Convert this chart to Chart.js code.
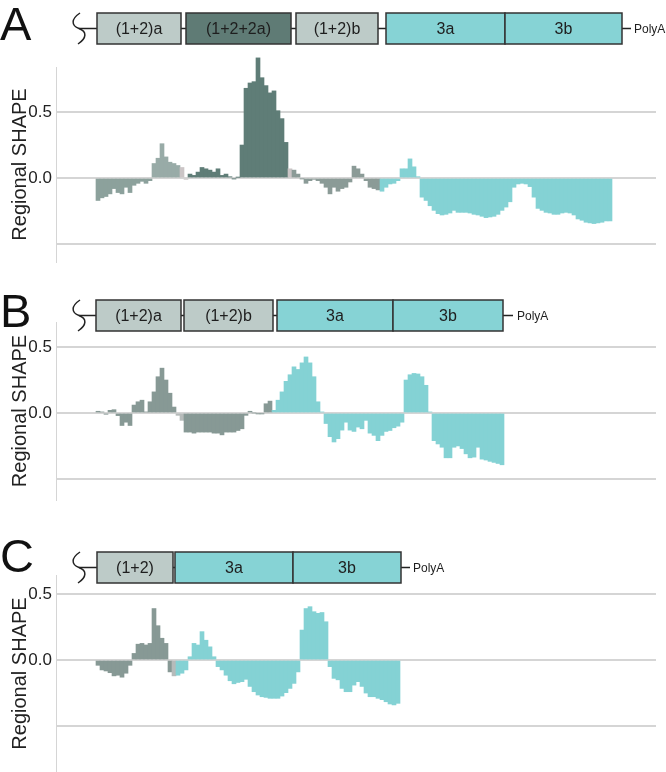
<!DOCTYPE html>
<html>
<head>
<title>Regional SHAPE</title>
<script src="https://cdn.jsdelivr.net/npm/chart.js"></script>
<style>
    body {
        margin: 0;
        background: #fff;
        font-family: "Liberation Sans", Arial, sans-serif;
    }

    #page {
        position: relative;
        width: 666px;
        height: 772px;
        overflow: hidden;
    }

    canvas, svg {
        position: absolute;
        left: 0;
    }
</style>
</head>
<body>
<div id="page">
    <canvas id="chartA" width="666" height="228" style="top:50px"></canvas>
    <canvas id="chartB" width="666" height="211" style="top:305px"></canvas>
    <canvas id="chartC" width="666" height="229" style="top:558px"></canvas>
    <svg id="maps" width="666" height="772" style="top:0"></svg>
</div>

<script>
// ---- values (one bar per 4px window) ----
var yTicks = [-0.5, 0, 0.5];
var yTickLabels = ['', '0.0', '0.5'];
var slotCount = 150;   // windows across the whole plot width
var leadSlots = 10;    // empty windows before the first bar

var shapeA = [
    -0.17, -0.15, -0.14, -0.12, -0.08, -0.11, -0.12, -0.07, -0.11, -0.055,
    -0.04, -0.025, -0.04, -0.02, 0.11, 0.15, 0.26, 0.16, 0.12, 0.11,
    0.095, 0.08, -0.01, 0.03, 0.02, 0.045, 0.08, 0.07, 0.06, 0.045,
    0.07, 0.02, 0.03, 0.01, -0.005, 0.005, 0.25, 0.68, 0.72, 0.73,
    0.91, 0.76, 0.70, 0.645, 0.66, 0.51, 0.45, 0.27, 0.07, 0.06,
    0.03, -0.005, -0.04, -0.02, -0.01, -0.02, -0.04, -0.07, -0.12, -0.07,
    -0.10, -0.08, -0.07, -0.03, 0.09, 0.07, 0.03, -0.02, -0.07, -0.08,
    -0.09, -0.10, -0.07, -0.045, -0.04, -0.02, 0.07, 0.07, 0.145, 0.085,
    0.01, -0.145, -0.17, -0.21, -0.245, -0.27, -0.28, -0.275, -0.265, -0.245,
    -0.26, -0.26, -0.26, -0.265, -0.275, -0.28, -0.29, -0.30, -0.295, -0.29,
    -0.275, -0.245, -0.22, -0.18, -0.07, -0.045, -0.04, -0.045, -0.065, -0.145,
    -0.23, -0.245, -0.26, -0.265, -0.275, -0.275, -0.265, -0.26, -0.265, -0.28,
    -0.31, -0.32, -0.335, -0.34, -0.345, -0.34, -0.335, -0.325, -0.325
];

var shapeB = [
    0.013, 0.008, -0.01, 0.02, 0.025, -0.02, -0.095, -0.07, -0.095, 0.06,
    0.085, 0.097, 0.008, 0.085, 0.16, 0.275, 0.34, 0.25, 0.15, 0.045,
    -0.018, -0.056, -0.145, -0.145, -0.153, -0.145, -0.145, -0.145, -0.145, -0.153,
    -0.153, -0.166, -0.145, -0.145, -0.145, -0.133, -0.12, -0.018, 0.013, 0.0,
    -0.005, -0.005, 0.07, 0.09, 0.02, 0.097, 0.16, 0.24, 0.29, 0.35,
    0.33, 0.38, 0.425, 0.38, 0.275, 0.085, 0.008, -0.08, -0.18, -0.22,
    -0.195, -0.13, -0.07, -0.13, -0.14, -0.107, -0.12, -0.056, -0.153, -0.17,
    -0.21, -0.17, -0.14, -0.133, -0.112, -0.10, -0.07, 0.25, 0.29, 0.30,
    0.296, 0.275, 0.21, 0.008, -0.21, -0.235, -0.26, -0.34, -0.34, -0.26,
    -0.25, -0.27, -0.31, -0.34, -0.335, -0.26, -0.35, -0.357, -0.367, -0.375,
    -0.383, -0.393
];

var shapeC = [
    -0.04, -0.075, -0.083, -0.096, -0.12, -0.115, -0.13, -0.10, -0.04, 0.05,
    0.12, 0.126, 0.114, 0.126, 0.39, 0.26, 0.165, 0.126, -0.09, -0.12,
    -0.115, -0.10, -0.075, 0.025, 0.126, 0.114, 0.215, 0.15, 0.10, 0.025,
    -0.05, -0.075, -0.115, -0.157, -0.18, -0.17, -0.164, -0.146, -0.20, -0.24,
    -0.265, -0.278, -0.283, -0.29, -0.29, -0.29, -0.273, -0.247, -0.215, -0.177,
    -0.09, 0.227, 0.39, 0.404, 0.366, 0.354, 0.36, 0.29, -0.05, -0.139,
    -0.15, -0.215, -0.24, -0.24, -0.19, -0.164, -0.20, -0.25, -0.278, -0.278,
    -0.29, -0.30, -0.316, -0.333, -0.34, -0.328
];

// which bars belong to which segment: [segment, first bar, last bar]
var segmentsA = [['12a', 0, 13], ['12a+', 14, 20], ['gapA', 21, 22], ['122a', 23, 47], ['gapA', 48, 48], ['12b', 49, 70], ['3', 71, 128]];
var segmentsB = [['12', 0, 19], ['gapB', 20, 21], ['12', 22, 43], ['3', 44, 101]];
var segmentsC = [['12', 0, 18], ['gapB', 19, 19], ['3', 20, 75]];

var segColor = {
    '12a': '#8ca19c',
    '12a+': '#98aba7',
    '122a': '#5f7d77',
    '12b': '#8b9b97',
    '12': '#879995',
    'gapA': '#cbc5c6',
    'gapB': '#b6bbba',
    '3': '#84d2d4'
};

var fontFamily = '"Liberation Sans", Arial, sans-serif';

function drawPanel(id, values, segments, yMin, yMax, padTop, padBottom) {
    var data = [];
    var colors = [];
    var labels = [];
    for (var i = 0; i < slotCount; i++) {
        data.push(null);
        colors.push('#000');
        labels.push(i);
    }
    values.forEach(function (v, k) { data[leadSlots + k] = v; });
    segments.forEach(function (s) {
        for (var k = s[1]; k <= s[2]; k++) colors[leadSlots + k] = segColor[s[0]];
    });

    new Chart(document.getElementById(id), {
        type: 'bar',
        data: {
            labels: labels,
            datasets: [{
                data: data,
                backgroundColor: colors,
                borderWidth: 0,
                barPercentage: 1,
                categoryPercentage: 1,
                clip: false
            }]
        },
        options: {
            responsive: false,
            animation: false,
            layout: { padding: { top: padTop, bottom: padBottom, left: 0, right: 10 } },
            plugins: { legend: { display: false }, tooltip: { enabled: false } },
            scales: {
                x: { display: false },
                y: {
                    min: yMin,
                    max: yMax,
                    afterBuildTicks: function (s) { s.ticks = yTicks.map(function (v) { return { value: v }; }); },
                    afterFit: function (s) { s.width = 56; },
                    ticks: {
                        callback: function (v) { return yTickLabels[yTicks.indexOf(v)]; },
                        color: '#222',
                        padding: 4,
                        font: { family: fontFamily, size: 17 }
                    },
                    grid: { color: '#d5d5d5', lineWidth: 2, drawTicks: false },
                    border: { color: '#d5d5d5', width: 1 },
                    title: {
                        display: true,
                        text: 'Regional SHAPE',
                        color: '#222',
                        padding: { top: 8, bottom: 0 },
                        font: { family: fontFamily, size: 20 }
                    }
                }
            }
        }
    });
}

drawPanel('chartA', shapeA, segmentsA, -0.636, 0.841, 17, 16);
drawPanel('chartB', shapeB, segmentsB, -0.66, 0.69, 17, 16);
drawPanel('chartC', shapeC, segmentsC, -0.848, 0.644, 17, 15);

// ---- transcript maps above each plot ----
var svg = document.getElementById('maps');
var NS = 'http://www.w3.org/2000/svg';
function el(tag, attrs, text) {
    var e = document.createElementNS(NS, tag);
    for (var k in attrs) e.setAttribute(k, attrs[k]);
    if (text) e.textContent = text;
    svg.appendChild(e);
    return e;
}

var boxFill = { light: '#bdcbc8', dark: '#5f7b75', cyan: '#86d3d5' };

function drawMap(letter, letterBase, top, boxes, lineEnd, polyX) {
    var h = 31, mid = top + h / 2;
    el('text', { x: 0, y: letterBase, 'font-size': 47, 'font-family': fontFamily, fill: '#111' }, letter);
    el('path', {
        d: 'M80,' + top + ' C71,' + (top + 6) + ' 71,' + (mid - 3) + ' 79,' + mid +
           ' C87,' + (mid + 3) + ' 87,' + (top + h - 6) + ' 78,' + (top + h),
        fill: 'none', stroke: '#222', 'stroke-width': 1.5
    });
    el('line', { x1: 79, y1: mid, x2: lineEnd, y2: mid, stroke: '#222', 'stroke-width': 1.5 });
    boxes.forEach(function (b) {
        el('rect', { x: b[1], y: top, width: b[2] - b[1], height: h, fill: boxFill[b[3]], stroke: '#333', 'stroke-width': 1.5 });
        el('text', {
            x: (b[1] + b[2]) / 2, y: mid + 5.7, 'text-anchor': 'middle',
            'font-size': 16, 'font-family': fontFamily, fill: '#1e1e1e'
        }, b[0]);
    });
    el('text', { x: polyX, y: mid + 4.3, 'font-size': 12, 'font-family': fontFamily, fill: '#1e1e1e' }, 'PolyA');
}

drawMap('A', 40, 13, [
    ['(1+2)a', 97, 181, 'light'], ['(1+2+2a)', 186, 291, 'dark'], ['(1+2)b', 296, 378, 'light'],
    ['3a', 386, 505, 'cyan'], ['3b', 505, 622, 'cyan']
], 631, 634);
drawMap('B', 327, 300, [
    ['(1+2)a', 96, 181, 'light'], ['(1+2)b', 184, 273, 'light'],
    ['3a', 277, 393, 'cyan'], ['3b', 393, 503, 'cyan']
], 513, 517);
drawMap('C', 572, 552, [
    ['(1+2)', 97, 173, 'light'], ['3a', 175, 293, 'cyan'], ['3b', 293, 401, 'cyan']
], 410, 413);
</script>
</body>
</html>
